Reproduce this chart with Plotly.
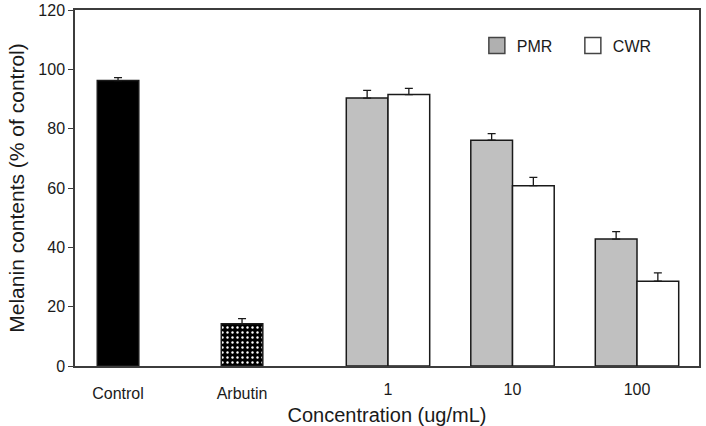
import plotly.graph_objects as go

# ---- data ----
ref_labels = ["Control", "Arbutin"]
ref_values = [96.2, 14.2]
ref_errors = [1.0, 1.8]

conc_labels = ["1", "10", "100"]
pmr_values = [90.3, 76.1, 42.8]
pmr_errors = [2.6, 2.2, 2.5]
cwr_values = [91.5, 60.8, 28.6]
cwr_errors = [2.1, 2.8, 2.8]

y_title = "Melanin contents (% of control)"
x_title = "Concentration (ug/mL)"

FONT = "Liberation Sans, Arial, sans-serif"
EDGE = "#1a1a1a"
AXIS = "#3c3c3c"
BAR_W = 0.335

fig = go.Figure()

err_style = dict(type="data", symmetric=False, color=EDGE, thickness=1.3, width=4)

# Control bar
fig.add_trace(go.Bar(
    x=[ref_labels[0]], y=[ref_values[0]], width=BAR_W,
    marker=dict(color="black", line=dict(color=EDGE, width=1.5)),
    error_y=dict(array=[ref_errors[0]], arrayminus=[0], **err_style),
    showlegend=False, xaxis="x", yaxis="y"))

# Arbutin bar (dotted)
fig.add_trace(go.Bar(
    x=[ref_labels[1]], y=[ref_values[1]], width=BAR_W,
    marker=dict(color="black", line=dict(color=EDGE, width=1.5),
                pattern=dict(shape=".", fgcolor="white", bgcolor="black",
                             size=5, solidity=0.18, fillmode="replace")),
    error_y=dict(array=[ref_errors[1]], arrayminus=[0], **err_style),
    showlegend=False, xaxis="x", yaxis="y"))

# PMR / CWR groups on overlaid categorical axis
fig.add_trace(go.Bar(
    x=conc_labels, y=pmr_values, width=BAR_W, offset=-BAR_W,
    marker=dict(color="#c0c0c0", line=dict(color=EDGE, width=1.5)),
    error_y=dict(array=pmr_errors, arrayminus=[0] * 3, **err_style),
    name="PMR", showlegend=False, xaxis="x2", yaxis="y"))
fig.add_trace(go.Bar(
    x=conc_labels, y=cwr_values, width=BAR_W, offset=0,
    marker=dict(color="white", line=dict(color=EDGE, width=1.5)),
    error_y=dict(array=cwr_errors, arrayminus=[0] * 3, **err_style),
    name="CWR", showlegend=False, xaxis="x2", yaxis="y"))

# legend-only entries
fig.add_trace(go.Scatter(x=[None], y=[None], mode="markers", name="PMR",
                         marker=dict(symbol="square", size=18, color="#b0b0b0",
                                     line=dict(color="#444", width=1.5)),
                         xaxis="x2", yaxis="y"))
fig.add_trace(go.Scatter(x=[None], y=[None], mode="markers", name="CWR",
                         marker=dict(symbol="square", size=18, color="white",
                                     line=dict(color="#444", width=1.5)),
                         xaxis="x2", yaxis="y"))

fig.update_layout(
    width=706, height=426,
    margin=dict(l=75, r=7, t=10, b=60),
    paper_bgcolor="white", plot_bgcolor="white",
    font=dict(family=FONT, color="#1a1a1a"),
    barmode="overlay",
    xaxis=dict(type="category", categoryorder="array", categoryarray=ref_labels,
               range=[-0.347, 4.685], showline=True, linecolor=AXIS,
               linewidth=1.5, mirror=True, ticks="", showgrid=False,
               tickfont=dict(size=16), ticklabelstandoff=12, automargin=False),
    xaxis2=dict(type="category", categoryorder="array", categoryarray=conc_labels,
                overlaying="x", anchor="y", side="bottom",
                range=[-2.514, 2.498], showline=False, ticks="", showgrid=False,
                tickfont=dict(size=16), ticklabelstandoff=12, automargin=False,
                title=dict(text=x_title, font=dict(size=20), standoff=11)),
    yaxis=dict(range=[0, 120], dtick=20, showline=True, linecolor=AXIS,
               linewidth=1.5, mirror=True, ticks="outside", ticklen=5,
               tickcolor=AXIS, showgrid=False, zeroline=False,
               tickfont=dict(size=16), automargin=False,
               title=dict(text=y_title, font=dict(size=21), standoff=8)),
    legend=dict(orientation="h", x=0.644, y=0.9, xanchor="left", yanchor="middle",
                font=dict(size=16), bgcolor="rgba(0,0,0,0)",
                entrywidth=51, entrywidthmode="pixels"),
)

fig.write_html("out.html")
